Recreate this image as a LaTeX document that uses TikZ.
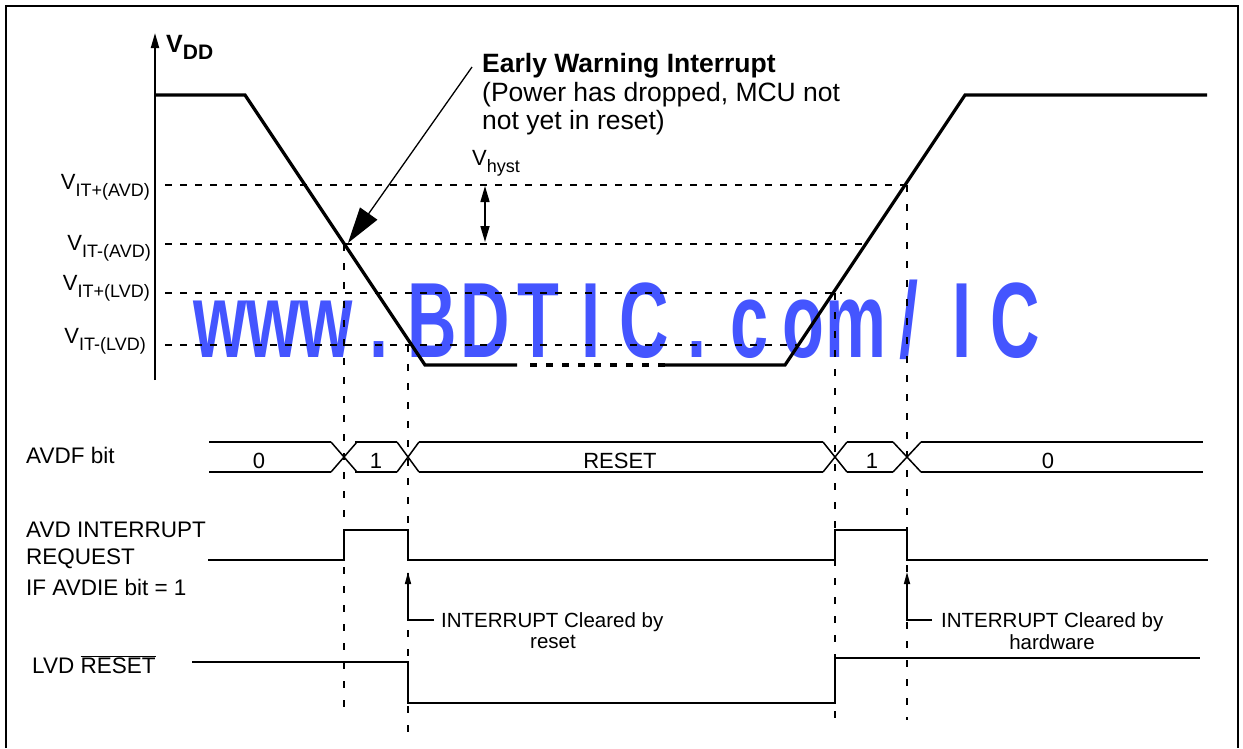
\documentclass[tikz,border=0pt]{standalone}
\usepackage{fontspec}
\setmainfont{Liberation Sans}
\usetikzlibrary{arrows.meta}
\definecolor{wmblue}{RGB}{68,85,255}
\newcommand{\volt}[1]{{\fontsize{22}{22}\selectfont V}\raisebox{-7pt}{\fontsize{18}{18}\selectfont #1}}

\tikzset{
  wave/.style={line width=3.2pt},
  sig/.style={line width=2pt},
  bus/.style={line width=1.5pt},
  guide/.style={line width=1.6pt,dash pattern=on 7pt off 8pt},
  vguide/.style={line width=1.6pt,dash pattern=on 7pt off 12pt},
  lab/.style={inner sep=0pt,font=\fontsize{22.5}{22.5}\selectfont},
  small/.style={inner sep=0pt,font=\fontsize{20.5}{20.5}\selectfont},
  big/.style={inner sep=0pt,font=\fontsize{26.5}{26.5}\selectfont},
  wmchar/.style={anchor=base,inner sep=0pt,text=wmblue,font=\fontsize{107}{107}\selectfont\bfseries},
}

\begin{document}
\begin{tikzpicture}[x=1pt,y=-1pt,line join=miter]
  \useasboundingbox (0,0) rectangle (1243,748);
  % watermark
  \foreach \ch [count=\k from 0] in {w,w,w,.,B,D,T,I,C,.,c,o,m,/,I,C}
    \node[wmchar] (wm\k) at (220+53*\k,357) {\scalebox{0.64}[1]{\ch}};
  % frame
  \draw[line width=2.5pt] (6,748) -- (6,6) -- (1238,6) -- (1238,748);
  % supply axis
  \draw[line width=2pt,-{Triangle[length=15pt,width=8pt]}] (155,380) -- (155,33);
  \node[anchor=base west,inner sep=0pt] (vdd) at (166,52)
    {\bfseries{\fontsize{25}{25}\selectfont V}\raisebox{-7pt}{\fontsize{21}{21}\selectfont DD}};
  % thresholds
  \foreach \y/\xe/\yl/\xl/\sub in {185/905/189/150/IT+(AVD),244/866/250/151/IT-(AVD),
      293/842/290/150/IT+(LVD),345/800/343/146/IT-(LVD)} {
    \draw[guide] (165,\y) -- (\xe,\y);
    \node[anchor=base east,inner sep=0pt] (th\y) at (\xl,\yl) {\volt{\sub}};
  }
  % supply curve
  \draw[wave] (155,95) -- (245,95) -- (425,365) -- (517,365);
  \draw[line width=4pt,dash pattern=on 7pt off 9pt] (530,365) -- (665,365);
  \draw[wave] (665,365) -- (785,365) -- (965,95) -- (1207,95);
  % event lines
  \foreach \x/\ya/\yb in {344/244/712,408/345/737,835/293/720,907/185/720}
    \draw[vguide] (\x,\ya) -- (\x,\yb);
  % early warning
  \coordinate (ewtail) at (472,67);
  \coordinate (ewtip) at (348,243);
  \draw[line width=1.3pt,-{Triangle[length=36pt,width=21pt]}] (ewtail) -- (ewtip);
  \node[big,anchor=base west] (ew1) at (482,72) {\bfseries Early Warning Interrupt};
  \node[big,anchor=base west] (ew2) at (482,101) {(Power has dropped, MCU not};
  \node[big,anchor=base west] (ew3) at (482,129) {not yet in reset)};
  % hysteresis
  \node[anchor=base west,inner sep=0pt] (hyst) at (472,165) {\volt{hyst}};
  \draw[line width=1.5pt,{Triangle[length=16pt,width=9pt]}-{Triangle[length=16pt,width=9pt]}]
    (485,186) -- (485,242);
  % AVDF bit
  \node[lab,anchor=base west] (avdf) at (26,463) {AVDF bit};
  \foreach \c/\h in {344/13,408/11,835/12,907/14}
    \draw[bus] (\c-\h,442) -- (\c+\h,472) (\c-\h,472) -- (\c+\h,442);
  \foreach \xa/\xb in {209/331,355/397,419/823,847/893,921/1203}
    \draw[bus] (\xa,442) -- (\xb,442) (\xa,472) -- (\xb,472);
  \foreach \x/\t [count=\k] in {259/0,376/1,620/RESET,872/1,1048/0}
    \node[small,anchor=base,font=\fontsize{22}{22}\selectfont] (bit\k) at (\x,468) {\t};
  % interrupt request
  \node[lab,anchor=base west] (irq1) at (26,537) {AVD INTERRUPT};
  \node[lab,anchor=base west] (irq2) at (26,564) {REQUEST};
  \node[lab,anchor=base west] (irq3) at (26,595) {IF AVDIE bit = 1};
  \draw[sig] (208,560) -- (344,560) -- (344,530) -- (408,530) -- (408,560) -- (835,560)
    -- (835,530) -- (907,530) -- (907,560) -- (1208,560);
  \draw[line width=1.6pt,-{Triangle[length=12pt,width=6pt]}] (434,620) -- (408,620) -- (408,572);
  \node[small,anchor=base west] (clr1) at (441,627) {INTERRUPT Cleared by};
  \node[small,anchor=base] (clr1b) at (553,648) {reset};
  \draw[line width=1.6pt,-{Triangle[length=12pt,width=6pt]}] (932,620) -- (907,620) -- (907,572);
  \node[small,anchor=base west] (clr2) at (941,627) {INTERRUPT Cleared by};
  \node[small,anchor=base] (clr2b) at (1052,649) {hardware};
  % LVD reset
  \node[lab,anchor=base west] (lvd) at (32,673) {LVD $\overline{\hbox{RESET}}$};
  \draw[sig] (192,662) -- (408,662) -- (408,703) -- (835,703) -- (835,658) -- (1200,658);
\end{tikzpicture}
\end{document}
